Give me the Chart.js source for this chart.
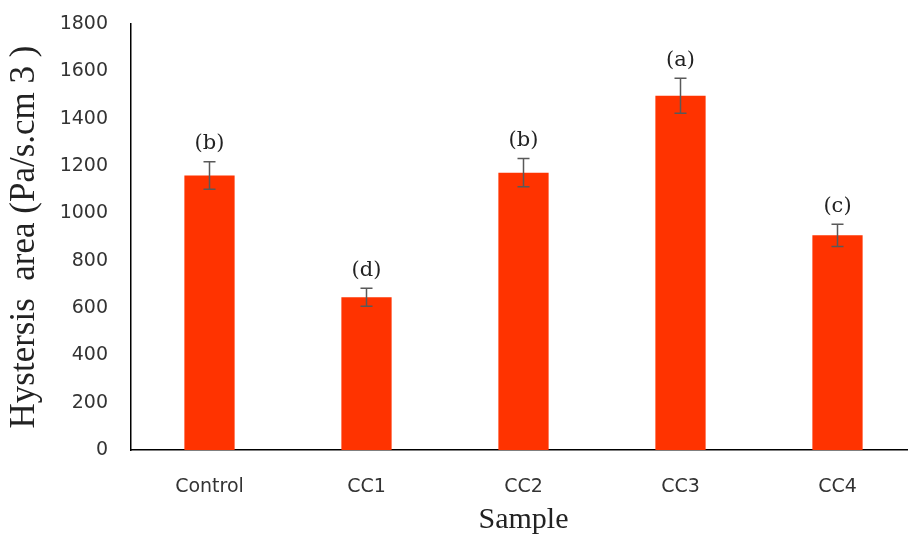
<!DOCTYPE html>
<html>
<head>
<meta charset="utf-8">
<script src="https://cdn.jsdelivr.net/npm/chart.js@4"></script>
<style>
  html, body { margin: 0; padding: 0; background: #fff; overflow: hidden; }
  #wrap { width: 908px; height: 539px; overflow: hidden; }
</style>
</head>
<body>
<div id="wrap"><canvas id="grafico" width="916" height="539"></canvas></div>
<script>
// valores
const amostras = ["Control", "CC1", "CC2", "CC3", "CC4"];
const areaHisterese = [1160, 645, 1172, 1497, 907];
const desvios = [58, 38, 60, 74, 47];
const letras = ["(b)", "(d)", "(b)", "(a)", "(c)"];
const ticksY = [0, 200, 400, 600, 800, 1000, 1200, 1400, 1600, 1800];

// barras de erro + letras de significância
const barrasErro = {
  id: "barrasErro",
  afterDatasetsDraw(chart) {
    const { ctx, scales } = chart;
    const meta = chart.getDatasetMeta(0);
    ctx.save();
    meta.data.forEach((bar, i) => {
      const x = bar.x;
      const yTop = scales.y.getPixelForValue(areaHisterese[i] + desvios[i]);
      const yBot = scales.y.getPixelForValue(areaHisterese[i] - desvios[i]);
      ctx.strokeStyle = "#595959";
      ctx.lineWidth = 1.5;
      ctx.beginPath();
      ctx.moveTo(x, yTop); ctx.lineTo(x, yBot);
      ctx.moveTo(x - 6, yTop); ctx.lineTo(x + 6, yTop);
      ctx.moveTo(x - 6, yBot); ctx.lineTo(x + 6, yBot);
      ctx.stroke();

      ctx.fillStyle = "#222";
      ctx.font = "21px 'DejaVu Serif'";
      ctx.textAlign = "center";
      ctx.textBaseline = "middle";
      ctx.fillText(letras[i], x, yTop - 18);
    });
    ctx.restore();
  },
};

new Chart(document.getElementById("grafico"), {
  type: "bar",
  data: {
    labels: amostras,
    datasets: [
      {
        data: areaHisterese,
        backgroundColor: "#ff3300",
        borderWidth: 0,
        barPercentage: 0.32,
        categoryPercentage: 1,
      },
    ],
  },
  options: {
    responsive: false,
    animation: false,
    layout: { padding: { top: 24, left: 0, right: 0, bottom: 0 } },
    plugins: {
      legend: { display: false },
      tooltip: { enabled: false },
    },
    scales: {
      x: {
        grid: { display: false, drawTicks: false },
        border: { display: true, color: "#000", width: 1.5 },
        ticks: {
          color: "#333",
          font: { family: "DejaVu Sans", size: 19 },
          padding: 26,
        },
        title: {
          display: true,
          text: "Sample",
          color: "#222",
          font: { family: "Liberation Serif", size: 30 },
          padding: { top: 0, bottom: 1 },
        },
        afterFit(scale) { scale.height = 89; },
      },
      y: {
        min: 0,
        max: 1800,
        grid: { display: false, drawTicks: false },
        border: { display: true, color: "#000", width: 1.5 },
        afterBuildTicks(scale) { scale.ticks = ticksY.map((v) => ({ value: v })); },
        ticks: {
          color: "#333",
          font: { family: "DejaVu Sans", size: 19 },
          padding: 23,
          callback: (v) => String(v),
        },
        title: {
          display: true,
          text: "Hystersis  area (Pa/s.cm 3 )",
          color: "#222",
          font: { family: "Liberation Serif", size: 35 },
          padding: { top: 4, bottom: 0 },
        },
        afterFit(scale) {
          scale.width = 131;
          // o padding dos ticks não deve empurrar a área do gráfico
          scale.paddingTop = 0;
          scale.paddingBottom = 0;
        },
      },
    },
  },
  plugins: [barrasErro],
});
</script>
</body>
</html>
